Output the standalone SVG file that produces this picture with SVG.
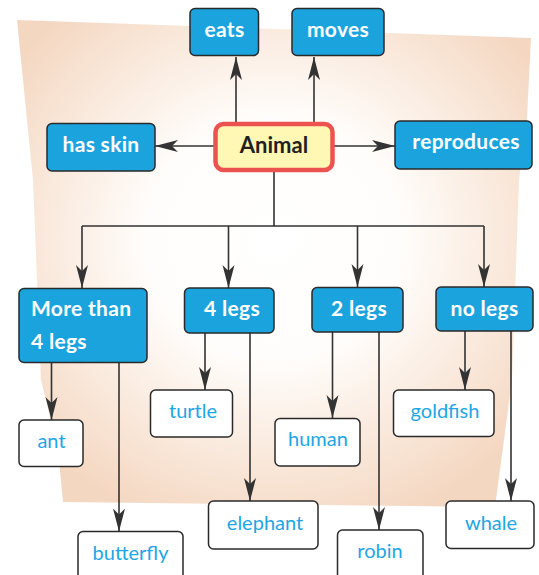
<svg xmlns="http://www.w3.org/2000/svg" width="539" height="575" viewBox="0 0 539 575">
<style>
.hdr rect{fill:#1BA3DE;stroke:#2a2a2a;stroke-width:1.5}
.hdr text{fill:#fff;font-family:Lato,"Open Sans",sans-serif;font-weight:700;font-size:21px;letter-spacing:0.3px}
.leaf rect{fill:#fff;stroke:#2a2a2a;stroke-width:1.5}
.leaf text{fill:#1DA6E4;font-family:Lato,"Open Sans",sans-serif;font-weight:400;font-size:20px}
.conn path{fill:none;stroke:#333;stroke-width:1.6;marker-end:url(#ah)}
.conn path.plain{marker-end:none}
</style>
<defs>
<radialGradient id="bg" cx="50%" cy="45%" r="62%">
<stop offset="0" stop-color="#ffffff"/>
<stop offset="0.4" stop-color="#fffdfb"/>
<stop offset="0.75" stop-color="#f9e7d9"/>
<stop offset="1" stop-color="#f4d7c1"/>
</radialGradient>
<marker id="ah" markerWidth="24" markerHeight="14" refX="23" refY="7" orient="auto" markerUnits="userSpaceOnUse">
<path d="M23,7 L0,1 L6,7 L0,13 Z" fill="#333"/>
</marker>
</defs>
<polygon points="17,20 531,38 527,118 519,180 512,380 495,507 63,502 58,450 41,380 33,180" fill="url(#bg)"/>
<g class="conn">
<path d="M236,122 V57"/>
<path d="M314,122 V57"/>
<path d="M214,146 H155"/>
<path d="M334,146 H395"/>
<path class="plain" d="M274,171 V226 M82,226 H484"/>
<path d="M82,226 V288"/>
<path d="M228.5,226 V288"/>
<path d="M357.5,226 V287"/>
<path d="M484,226 V287"/>
<path d="M51.5,363 V420"/>
<path d="M119,363 V531.5"/>
<path d="M205,333 V390"/>
<path d="M250,333 V501"/>
<path d="M332.5,332 V418"/>
<path d="M379,332 V530"/>
<path d="M465,331 V390"/>
<path d="M511,331 V501"/>
</g>
<g id="animal">
<rect x="215.5" y="124" width="117" height="46" rx="8" fill="#FFF8B4" stroke="#EC5350" stroke-width="4.5"/>
<text x="274" y="152.5" text-anchor="middle" font-family="Lato,'Open Sans',sans-serif" font-weight="700" font-size="22" fill="#231F20">Animal</text>
</g>
<g id="eats" class="hdr"><rect x="190" y="8.5" width="68.5" height="47" rx="5"/><text x="224.5" y="37" text-anchor="middle">eats</text></g>
<g id="moves" class="hdr"><rect x="292" y="8.5" width="92" height="47" rx="5"/><text x="338" y="37" text-anchor="middle">moves</text></g>
<g id="has-skin" class="hdr"><rect x="47" y="123.5" width="108" height="47.5" rx="5"/><text x="101" y="152" text-anchor="middle">has skin</text></g>
<g id="reproduces" class="hdr"><rect x="395" y="121" width="137" height="48" rx="5"/><text x="466" y="148.5" text-anchor="middle">reproduces</text></g>
<g id="more-than-4" class="hdr"><rect x="19" y="288.5" width="128" height="74" rx="5"/><text x="31" y="316">More than</text><text x="31" y="348.5">4 legs</text></g>
<g id="legs4" class="hdr"><rect x="184.5" y="288" width="89.5" height="45" rx="5"/><text x="232" y="316" text-anchor="middle">4 legs</text></g>
<g id="legs2" class="hdr"><rect x="312" y="287.5" width="91" height="44.5" rx="5"/><text x="359" y="316" text-anchor="middle">2 legs</text></g>
<g id="nolegs" class="hdr"><rect x="436" y="287" width="97" height="44" rx="5"/><text x="484.5" y="315.5" text-anchor="middle">no legs</text></g>
<g id="ant" class="leaf"><rect x="19" y="420" width="64" height="46.5" rx="5"/><text x="51.5" y="447.5" text-anchor="middle">ant</text></g>
<g id="butterfly" class="leaf"><rect x="78" y="531.5" width="105" height="50" rx="5"/><text x="130.5" y="559.5" text-anchor="middle">butterfly</text></g>
<g id="turtle" class="leaf"><rect x="150.5" y="390" width="82" height="47" rx="5"/><text x="193" y="418" text-anchor="middle">turtle</text></g>
<g id="elephant" class="leaf"><rect x="208.5" y="501" width="109.5" height="48" rx="5"/><text x="265" y="529.5" text-anchor="middle">elephant</text></g>
<g id="human" class="leaf"><rect x="275" y="418.5" width="85" height="47.5" rx="5"/><text x="318" y="446" text-anchor="middle">human</text></g>
<g id="robin" class="leaf"><rect x="337.5" y="530" width="85.5" height="52" rx="5"/><text x="380" y="558" text-anchor="middle">robin</text></g>
<g id="goldfish" class="leaf"><rect x="393.5" y="390" width="100.5" height="46.5" rx="5"/><text x="445" y="418" text-anchor="middle">goldfish</text></g>
<g id="whale" class="leaf"><rect x="446" y="501" width="88" height="47.5" rx="5"/><text x="491" y="529.5" text-anchor="middle">whale</text></g>
</svg>
